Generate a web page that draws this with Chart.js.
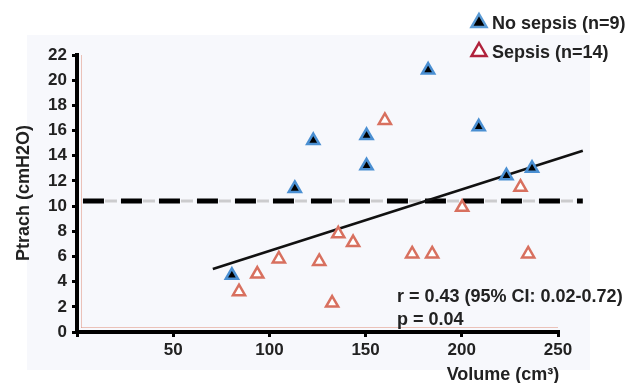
<!DOCTYPE html>
<html>
<head>
<meta charset="utf-8">
<script src="https://cdn.jsdelivr.net/npm/chart.js@4.4.1/dist/chart.umd.min.js"></script>
<style>
html,body{margin:0;padding:0;background:#fff;}
#wrap{position:relative;width:643px;height:383px;}
</style>
</head>
<body>
<div id="wrap"><canvas id="c" width="643" height="383"></canvas></div>
<script>
// ---- data ----
const noSepsisVolume = [80.5, 113.2, 122.8, 150.5, 150.5, 182.5, 208.8, 223.2, 236.5];
const noSepsisPtrach = [4.5, 11.4, 15.2, 13.2, 15.6, 20.8, 16.3, 12.4, 13.0];
const sepsisVolume = [84.2, 93.7, 104.9, 125.9, 132.6, 135.8, 143.5, 160.0, 174.2, 184.6, 200.2, 230.5, 234.5];
const sepsisPtrach = [3.2, 4.6, 5.8, 5.6, 2.3, 7.8, 7.1, 16.8, 6.2, 6.2, 9.9, 11.5, 6.2];
const fitVolume = [70.6, 262.9];
const fitPtrach = [5.0, 14.4];
const thresholdVolume = [3.1, 262.9];
const thresholdPtrach = [10.4, 10.4];
const xTicks = [50, 100, 150, 200, 250];
const yTicks = [0, 2, 4, 6, 8, 10, 12, 14, 16, 18, 20, 22];
const legendLabels = ['No sepsis (n=9)', 'Sepsis (n=14)'];
const statLines = ['r = 0.43 (95% CI: 0.02-0.72)', 'p = 0.04'];
const xTitle = 'Volume (cm\u00B3)';
const yTitle = 'Ptrach (cmH2O)';

const toPts = (xs, ys) => xs.map((x, i) => ({x: x, y: ys[i]}));
const FONT = '"Liberation Sans", Arial, Helvetica, sans-serif';
const BLUE = '#4a8fd2';
const RED = '#d8705f';

const decor = {
  id: 'decor',
  beforeDraw(chart) {
    const ctx = chart.ctx;
    ctx.save();
    ctx.fillStyle = '#f7f8fc';
    ctx.fillRect(27, 35, 563, 335);
    // faint salmon shadow lines along axes
    ctx.strokeStyle = 'rgba(225,150,130,0.55)';
    ctx.lineWidth = 1;
    ctx.beginPath();
    ctx.moveTo(81, 327.5); ctx.lineTo(558, 327.5);
    ctx.moveTo(81.5, 55); ctx.lineTo(81.5, 328);
    ctx.stroke();
    ctx.restore();
  },
  afterDraw(chart) {
    const ctx = chart.ctx;
    ctx.save();
    ctx.fillStyle = '#222';
    ctx.font = 'bold 18px ' + FONT;
    ctx.textBaseline = 'alphabetic';
    ctx.textAlign = 'left';
    // legend
    const tri = (cx, cy, fill, stroke, lw) => {
      ctx.beginPath();
      ctx.moveTo(cx, cy - 7);
      ctx.lineTo(cx + 7.5, cy + 6);
      ctx.lineTo(cx - 7.5, cy + 6);
      ctx.closePath();
      ctx.fillStyle = fill; ctx.fill();
      ctx.lineWidth = lw; ctx.strokeStyle = stroke; ctx.stroke();
    };
    tri(479, 21, '#000', '#5b9bd5', 2.5);
    tri(479, 50, '#fff', '#b0223c', 2.5);
    ctx.fillStyle = '#222';
    ctx.fillText(legendLabels[0], 492, 29);
    ctx.fillText(legendLabels[1], 492, 58);
    // stats
    ctx.fillText(statLines[0], 397, 302);
    ctx.fillText(statLines[1], 397, 325);
    // x title
    ctx.textAlign = 'center';
    ctx.fillText(xTitle, 503, 380);
    // y title
    ctx.translate(29, 193);
    ctx.rotate(-Math.PI / 2);
    ctx.fillText(yTitle, 0, 0);
    ctx.restore();
  }
};

new Chart(document.getElementById('c'), {
  type: 'scatter',
  data: {
    datasets: [
      {
        type: 'line',
        data: toPts(thresholdVolume, thresholdPtrach),
        borderColor: 'rgba(150,150,150,0.45)',
        borderWidth: 3,
        borderDash: [12, 26],
        borderDashOffset: -22,
        pointRadius: 0,
        clip: false,
        order: 5
      },
      {
        type: 'line',
        data: toPts(thresholdVolume, thresholdPtrach),
        borderColor: '#000',
        borderWidth: 5,
        borderDash: [21, 17],
        pointRadius: 0,
        clip: false,
        order: 4
      },
      {
        type: 'line',
        data: toPts(fitVolume, fitPtrach),
        borderColor: '#111',
        borderWidth: 2.5,
        pointRadius: 0,
        clip: false,
        order: 3
      },
      {
        data: toPts(sepsisVolume, sepsisPtrach),
        pointStyle: 'triangle',
        pointRadius: 7,
        backgroundColor: '#fff',
        borderColor: RED,
        borderWidth: 2.5,
        clip: false,
        order: 2
      },
      {
        data: toPts(noSepsisVolume, noSepsisPtrach),
        pointStyle: 'triangle',
        pointRadius: 7,
        backgroundColor: '#000',
        borderColor: BLUE,
        borderWidth: 2.5,
        clip: false,
        order: 1
      }
    ]
  },
  options: {
    responsive: false,
    animation: false,
    events: [],
    layout: { padding: { left: 0, top: 55, right: 85, bottom: 0 } },
    plugins: { legend: { display: false }, tooltip: { enabled: false } },
    scales: {
      x: {
        type: 'linear',
        min: 0, max: 250,
        afterFit(s) { s.height = 51; },
        afterBuildTicks(s) { s.ticks = [0].concat(xTicks).map(v => ({value: v})); },
        border: { display: true, color: '#000', width: 4 },
        grid: { drawOnChartArea: false, drawTicks: true, tickLength: 5, color: '#000', lineWidth: 3 },
        ticks: {
          color: '#222',
          font: { family: FONT, size: 17, weight: 'bold' },
          padding: 3,
          maxRotation: 0,
          callback: v => (v === 0 ? '' : String(v))
        }
      },
      y: {
        type: 'linear',
        min: 0, max: 22,
        afterFit(s) { s.width = 77; },
        afterBuildTicks(s) { s.ticks = yTicks.map(v => ({value: v})); },
        border: { display: true, color: '#000', width: 4 },
        grid: { drawOnChartArea: false, drawTicks: true, tickLength: 5, color: '#000', lineWidth: 3 },
        ticks: {
          color: '#222',
          font: { family: FONT, size: 17, weight: 'bold' },
          padding: 5
        }
      }
    }
  },
  plugins: [decor]
});
</script>
</body>
</html>
